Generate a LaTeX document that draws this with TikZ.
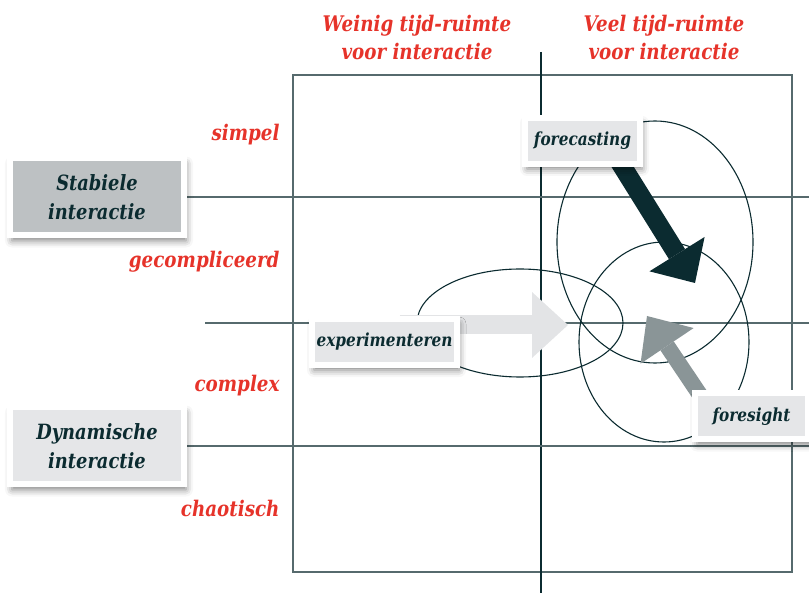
\documentclass[tikz,border=0pt]{standalone}
\usepackage{fontspec}
\setmainfont{DejaVu Serif}[FakeStretch=0.85]
\usetikzlibrary{arrows.meta,shadows.blur,backgrounds}
\definecolor{kopRood}{HTML}{E6332A}
\definecolor{donker}{HTML}{0B2B30}
\definecolor{lijnGrijs}{HTML}{566A6D}
\definecolor{vakGrijs}{HTML}{BDC1C3}
\definecolor{vakLicht}{HTML}{E5E6E8}
\definecolor{pijlGrijs}{HTML}{8A9597}
\definecolor{pijlLicht}{HTML}{E3E4E6}

\begin{document}
\begin{tikzpicture}[
  x=1pt,y=-1pt,
  kop/.style={text=kopRood,align=center,font=\bfseries\itshape\fontsize{21.5}{28}\selectfont},
  tag/.style={draw=white,line width=6pt,fill=#1,text=donker,align=center,inner sep=0pt,
    blur shadow={shadow xshift=2pt,shadow yshift=-5pt,shadow blur radius=7pt,shadow opacity=50}},
  bigtag/.style={tag=#1,minimum width=174pt,minimum height=77pt,
    font=\bfseries\itshape\fontsize{21}{29}\selectfont},
  smalltag/.style={tag=vakLicht,minimum height=46pt,font=\bfseries\itshape\fontsize{18}{22}\selectfont},
  grid/.style={draw=lijnGrijs,line width=1.3pt},
  ring/.style={draw=donker,line width=1.1pt},
  ]
  \useasboundingbox (0,0) rectangle (809,593);
  \node[kop] (kopWeinig) at (417,37) {Weinig tijd-ruimte\\voor interactie};
  \node[kop] (kopVeel) at (664,37) {Veel tijd-ruimte\\voor interactie};
  \node[kop,anchor=base east] (lblSimpel) at (283,141) {simpel};
  \node[kop,anchor=base east] (lblGecompliceerd) at (283,268) {gecompliceerd};
  \node[kop,anchor=base east] (lblComplex) at (283,392) {complex};
  \node[kop,anchor=base east] (lblChaotisch) at (283,516) {chaotisch};
  \node[bigtag=vakGrijs] (quadStabiel) at (97,197) {Stabiele\\interactie};
  \node[bigtag=vakLicht] (quadDynamisch) at (97,446) {Dynamische\\interactie};
  \node[smalltag,minimum width=115pt] (quadForecast) at (582.5,141) {forecasting};
  \node[smalltag,minimum width=145pt] (quadExperiment) at (384.5,342) {experimenteren};
  \node[smalltag,minimum width=113pt] (quadForesight) at (751.5,416.5) {foresight};
  \coordinate (tipForecast) at (695,283);
  \coordinate (tipForesight) at (647,316);
  \coordinate (tipExperiment) at (568,325);
  \begin{scope}[on background layer]
    \draw[grid] (293,75) rectangle (792,572);
    \draw[grid,draw=donker] (541,52) -- (541,593);
    \draw[grid] (quadStabiel.east) -- (809,197);
    \draw[grid] (205,323) -- (809,323);
    \draw[grid] (quadDynamisch.east) -- (809,446);
    \draw[ring] (655,242) ellipse [x radius=98pt,y radius=121pt];
    \draw[ring] (664,342) ellipse [x radius=85pt,y radius=100pt];
    \draw[ring] (520,323) ellipse [x radius=103pt,y radius=54pt];
    \draw[pijlLicht,line width=19pt,-{Triangle[length=36pt,width=66pt,line width=0pt]}]
      ([xshift=15pt,yshift=17pt]quadExperiment.center) -- (tipExperiment);
    \draw[donker,line width=19pt,-{Triangle[length=34pt,width=65pt,line width=0pt]}]
      ([xshift=24pt]quadForecast.center) -- (tipForecast);
    \draw[pijlGrijs,line width=16pt,-{Triangle[length=36pt,width=64pt,line width=0pt]}]
      ([xshift=-37pt]quadForesight.center) -- (tipForesight);
  \end{scope}
\end{tikzpicture}
\end{document}
